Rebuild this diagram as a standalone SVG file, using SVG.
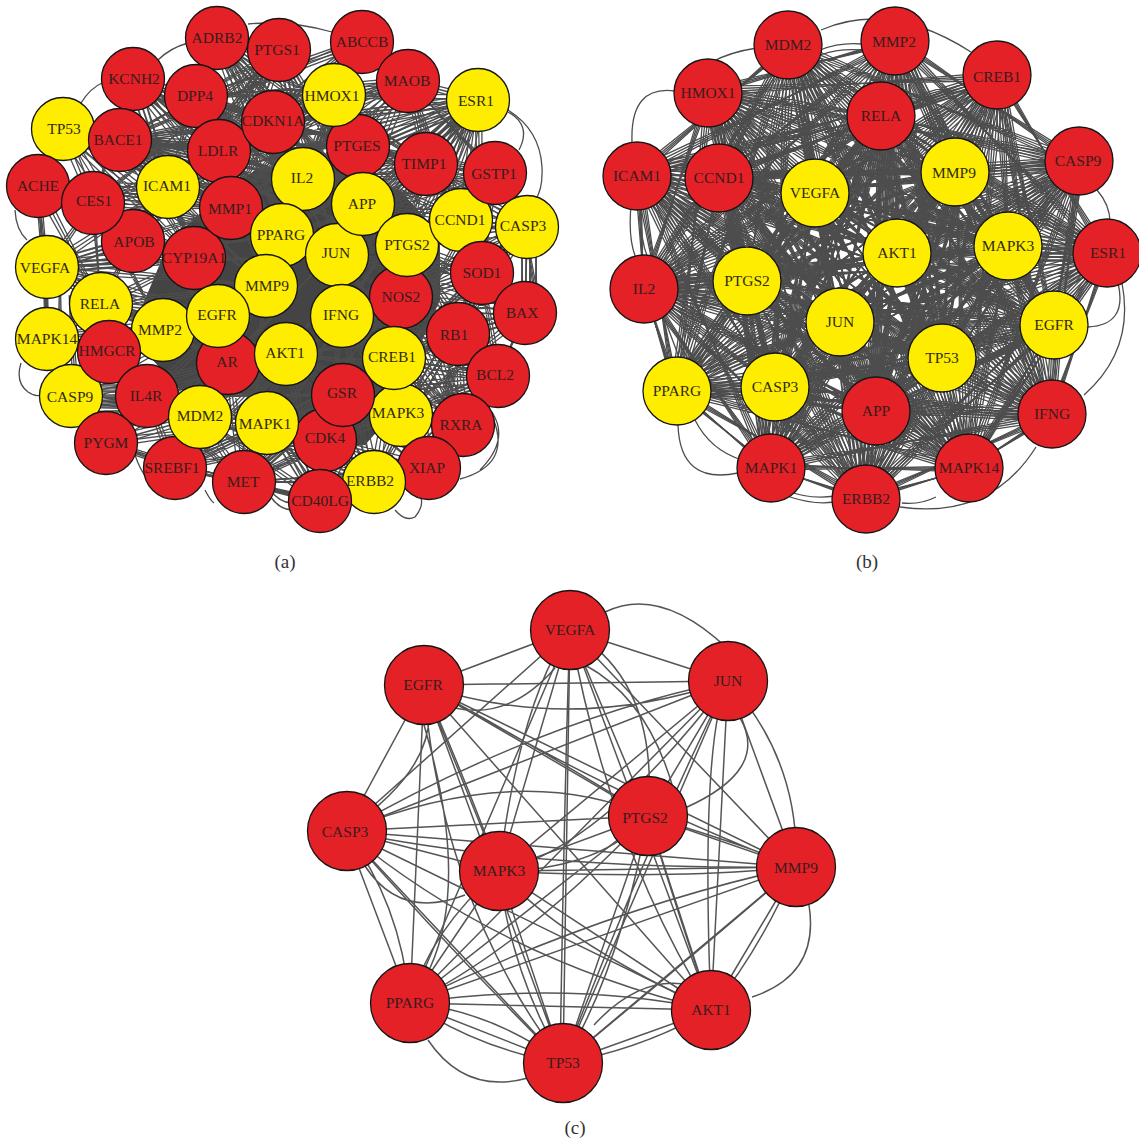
<svg xmlns="http://www.w3.org/2000/svg" width="1139" height="1143" viewBox="0 0 1139 1143">
<style>
.bg{fill:#fff}
.e{fill:none;stroke:#4d4d4d;stroke-width:1.3}
.e2{fill:none;stroke:#555;stroke-width:1.5}
.mass{fill:#444;stroke:none}
.r circle{fill:#e32126;stroke:#151515;stroke-width:1.3}
.y circle{fill:#ffed00;stroke:#151515;stroke-width:1.3}
text{font-family:"Liberation Serif","Times New Roman",serif;font-size:15.5px;text-anchor:middle}
.r text{fill:#3a1c1e}
.y text{fill:#2f2c10}
.cap{font-size:19px;fill:#333}
</style>
<rect class="bg" width="1139" height="1143"/>
<g id="connectors">
<g id="connectors-a">
<path class="mass" d="M170 240L210 205L255 170L320 160L400 190L440 235L440 300L420 345L405 400L365 445L300 450L250 395L180 390L130 335Z"/>
<path id="a-edges" class="e" d="M478 100L303 179M478 100L363 204M478 100L337 255M478 100L282 235M478 100L407 245M478 100L342 316M478 100L231 208M478 100L218 316M478 100L286 354M478 100L401 297M478 100L394 358M478 100L266 286M478 100L228 363M478 100L168 187M478 100L120 140M478 100L334 95M478 100L408 81M478 100L358 146M478 100L273 122M478 100L461 220M478 100L219 151M478 100L430 165M478 100L482 273
M217 38L303 179M217 38L363 204M217 38L337 255M217 38L407 245M217 38L358 146M217 38L282 235M217 38L426 164M217 38L342 316
M279 50L231 208M279 50L194 258M279 50L133 241M279 50L303 179M279 50L363 204M279 50L337 255M279 50L120 140M279 50L168 187M279 50L407 245M279 50L219 151M279 50L93 203
M362 42L219 151M362 42L231 208M362 42L303 179M362 42L282 235M362 42L266 286M362 42L196 96M362 42L168 187M362 42L133 241M362 42L120 140
M408 81L219 151M408 81L303 179M408 81L282 235M408 81L337 255M408 81L231 208M408 81L168 187M408 81L120 140M408 81L273 122M408 81L196 96M408 81L461 220M408 81L495 173M408 81L426 164
M133 79L303 179M133 79L231 208M133 79L282 235M133 79L337 255M133 79L363 204M133 79L168 187M133 79L358 146M133 79L219 151M133 79L273 122M133 79L93 203M133 79L194 258M133 79L407 245
M196 96L303 179M196 96L363 204M196 96L282 235M196 96L337 255M196 96L358 146M196 96L426 164M196 96L334 95M196 96L266 286M196 96L407 245M196 96L461 220M196 96L168 187
M120 140L303 179M120 140L231 208M120 140L282 235M120 140L363 204M120 140L337 255M120 140L266 286M120 140L194 258M120 140L358 146M120 140L426 164M120 140L407 245M120 140L219 151M120 140L273 122M120 140L168 187
M63 129L168 187M63 129L231 208M63 129L133 241M63 129L194 258M63 129L282 235M63 129L303 179M63 129L219 151M63 129L93 203M63 129L266 286M63 129L337 255
M38 186L168 187M38 186L133 241M38 186L194 258M38 186L231 208M38 186L47 267M38 186L101 304M38 186L47 339M38 186L282 235
M93 203L168 187M93 203L194 258M93 203L231 208M93 203L47 267M93 203L101 304M93 203L163 330M93 203L218 316
M47 267L133 241M47 267L194 258M47 267L231 208M47 267L266 286M47 267L163 330M47 267L218 316M47 267L168 187M47 267L282 235M47 267L228 363M47 267L286 354M47 267L337 255M47 267L101 304M47 267L47 339M45 280L50 360M60 290L60 350M70 300L75 380
M101 304L218 316M101 304L163 330M101 304L194 258M101 304L228 363M101 304L266 286M101 304L133 241M101 304L286 354M47 339L101 304M47 339L163 330M47 339L218 316M47 339L71 396M47 339L109 352
M71 396L147 396M71 385L147 385M71 391L147 391M71 401L147 401M71 407L147 407M71 412L147 412M71 396L200 417M71 396L228 363M71 396L267 423M71 396L163 330M71 396L218 316
M147 396L200 417M147 396L228 363M147 396L267 423M147 396L343 395M147 396L175 468M147 396L244 482M147 396L286 354M147 396L266 286
M106 443L200 417M106 443L228 363M106 443L175 468M106 443L147 396M106 443L267 423M106 443L244 482
M175 468L267 423M175 468L228 363M175 468L286 354M175 468L325 440M175 468L343 395M175 468L200 417M175 468L244 482M175 468L394 358M175 468L320 501M175 468L342 316M175 468L266 286
M200 417L228 363M200 417L244 482M200 417L320 501M200 417L325 440M200 417L374 482M200 417L286 354
M244 482L267 423M244 482L228 363M244 482L286 354M244 482L343 395M244 482L325 440M244 482L320 501M244 482L374 482M244 482L394 358M244 482L342 316M244 482L401 415M244 482L266 286M244 482L401 297M244 482L429 468M244 482L200 417
M320 501L267 423M320 501L325 440M320 501L286 354M320 501L228 363M320 501L343 395M320 501L218 316M320 501L175 468M320 501L342 316M320 501L394 358M320 501L200 417
M374 482L401 415M374 482L343 395M374 482L394 358M374 482L342 316M374 482L286 354M374 482L325 440M374 482L458 334M374 482L267 423M374 482L429 468M374 482L463 425M374 482L498 376
M429 468L401 415M429 468L394 358M429 468L343 395M429 468L342 316M429 468L401 297M429 468L458 334M429 468L463 425M429 468L325 440M429 468L286 354M429 468L482 273
M463 425L394 358M463 425L401 297M463 425L343 395M463 425L342 316M463 425L407 245M463 425L337 255M463 425L286 354M463 425L401 415M463 425L458 334M463 425L498 376
M498 376L394 358M498 376L401 415M498 376L342 316M498 376L401 297M498 376L343 395M498 376L407 245M498 376L337 255M498 376L286 354M498 376L325 440M498 376L429 468M498 376L525 313M498 376L482 273M498 376L374 482
M525 313L458 334M525 313L401 297M525 313L407 245M525 313L394 358M525 313L337 255M525 313L342 316M525 313L401 415M525 313L461 220M525 313L527 227M530 250L530 313M536 250L536 313M522 250L522 313M527 240L540 320
M527 227L461 220M527 227L407 245M527 227L401 297M527 227L342 316M527 227L337 255M527 227L363 204M527 227L495 173M527 227L482 273M527 227L458 334M527 227L394 358M527 227L426 164M527 227L358 146
M495 173L426 164M495 173L407 245M495 173L363 204M495 173L337 255M495 173L303 179M495 173L342 316M495 173L461 220M495 173L482 273M495 173L358 146M495 173L282 235M495 173L394 358
M482 273L407 245M482 273L394 358M482 273L401 297M482 273L342 316M482 273L458 334M482 273L401 415M482 273L286 354M482 273L337 255M458 334L394 358M458 334L401 297M458 334L401 415M458 334L342 316M458 334L343 395M458 334L286 354M458 334L407 245M458 334L463 425
M426 164L461 220M426 164L407 245M426 164L363 204M426 164L303 179M426 164L337 255M426 164L358 146M426 164L334 95
M334 95L273 122M334 95L303 179M334 95L363 204M334 95L219 151M334 95L282 235M334 95L231 208M334 95L358 146M334 95L337 255
M358 146L303 179M358 146L273 122M358 146L219 151M358 146L231 208M358 146L426 164M273 122L303 179M273 122L219 151M273 122L168 187M273 122L231 208M273 122L363 204M273 122L282 235M219 151L303 179M219 151L168 187M219 151L93 203M219 151L231 208M219 151L363 204M219 151L282 235M168 187L133 241M168 187L231 208M168 187L303 179M168 187L194 258M168 187L282 235"/>
<use href="#a-edges" transform="rotate(1.4 270 265)"/>
<use href="#a-edges" transform="rotate(-1.4 270 265)"/>
<path class="e" d="M81 103Q90 88 104 82M158 60Q170 48 188 43M248 24Q290 20 332 32M508 110Q540 130 542 167Q543 190 535 200M508 112Q532 125 519 150M15 210Q16 230 27 240M21 363Q15 382 28 392Q35 397 41 395M135 455Q140 470 147 478M205 490Q210 500 214 503M270 490Q280 503 292 503M270 496Q280 510 292 510M493 418Q512 465 460 479M492 412Q510 440 480 470M395 510Q405 522 415 517Q425 505 420 495"/>
</g>
<g id="connectors-b">
<path id="b-edges" class="e" d="M788 45L815 193M788 45L897 253M788 45L840 322M788 45L942 358M788 45L775 387M788 45L876 411M788 45L771 468M788 45L866 499M788 45L969 468M788 45L1052 414M788 45L1054 325M788 45L1008 246M788 45L747 281M788 45L677 391M788 45L644 289M788 45L1107 253M788 45L1079 161M788 45L955 172M788 45L719 178M788 45L637 176M788 45L881 116
M895 41L815 193M895 41L897 253M895 41L840 322M895 41L942 358M895 41L775 387M895 41L876 411M895 41L771 468M895 41L866 499M895 41L969 468M895 41L1052 414M895 41L1054 325M895 41L1008 246M895 41L747 281M895 41L677 391M895 41L644 289M895 41L719 178M895 41L637 176M895 41L955 172M895 41L708 93M895 41L1107 253M895 41L1079 161
M997 75L815 193M997 75L897 253M997 75L840 322M997 75L942 358M997 75L775 387M997 75L876 411M997 75L771 468M997 75L866 499M997 75L969 468M997 75L1052 414M997 75L1054 325M997 75L747 281M997 75L677 391M997 75L644 289M997 75L719 178M997 75L637 176M997 75L708 93M997 75L881 116M997 75L1008 246M997 75L1107 253
M708 93L815 193M708 93L897 253M708 93L840 322M708 93L942 358M708 93L775 387M708 93L876 411M708 93L771 468M708 93L866 499M708 93L969 468M708 93L1052 414M708 93L1054 325M708 93L1008 246M708 93L747 281M708 93L677 391M708 93L644 289M708 93L955 172M708 93L881 116M708 93L1079 161M708 93L1107 253
M881 116L815 193M881 116L897 253M881 116L840 322M881 116L942 358M881 116L775 387M881 116L876 411M881 116L771 468M881 116L866 499M881 116L969 468M881 116L1052 414M881 116L1054 325M881 116L1008 246M881 116L747 281M881 116L677 391M881 116L644 289M881 116L719 178M881 116L637 176M881 116L955 172M881 116L1107 253M881 116L1079 161
M1079 161L815 193M1079 161L897 253M1079 161L840 322M1079 161L942 358M1079 161L775 387M1079 161L876 411M1079 161L771 468M1079 161L866 499M1079 161L969 468M1079 161L1052 414M1079 161L1054 325M1079 161L747 281M1079 161L955 172M1079 161L719 178M1079 161L1008 246M1079 161L677 391
M637 176L815 193M637 176L897 253M637 176L840 322M637 176L942 358M637 176L775 387M637 176L876 411M637 176L771 468M637 176L866 499M637 176L969 468M637 176L1052 414M637 176L1054 325M637 176L1008 246M637 176L747 281M637 176L677 391M637 176L955 172M637 176L644 289
M719 178L815 193M719 178L897 253M719 178L840 322M719 178L942 358M719 178L775 387M719 178L876 411M719 178L771 468M719 178L866 499M719 178L969 468M719 178L1052 414M719 178L1054 325M719 178L1008 246M719 178L747 281M719 178L677 391M719 178L955 172M719 178L644 289M719 178L1107 253
M815 193L897 253M815 193L840 322M815 193L942 358M815 193L775 387M815 193L876 411M815 193L771 468M815 193L866 499M815 193L969 468M815 193L1052 414M815 193L1054 325M815 193L1008 246M815 193L747 281M815 193L677 391M815 193L644 289M815 193L955 172M815 193L1107 253
M955 172L897 253M955 172L840 322M955 172L942 358M955 172L775 387M955 172L876 411M955 172L771 468M955 172L866 499M955 172L969 468M955 172L1052 414M955 172L1054 325M955 172L1008 246M955 172L747 281M955 172L677 391M955 172L644 289M955 172L1107 253
M1107 253L897 253M1107 253L840 322M1107 253L942 358M1107 253L775 387M1107 253L876 411M1107 253L771 468M1107 253L866 499M1107 253L969 468M1107 253L1052 414M1107 253L1054 325M1107 253L1008 246M1107 253L747 281
M644 289L897 253M644 289L840 322M644 289L942 358M644 289L775 387M644 289L876 411M644 289L771 468M644 289L866 499M644 289L969 468M644 289L1052 414M644 289L1054 325M644 289L747 281M644 289L677 391M644 289L1008 246
M747 281L897 253M747 281L840 322M747 281L942 358M747 281L775 387M747 281L876 411M747 281L771 468M747 281L866 499M747 281L969 468M747 281L1052 414M747 281L1054 325M747 281L1008 246M747 281L677 391
M897 253L840 322M897 253L942 358M897 253L775 387M897 253L876 411M897 253L771 468M897 253L866 499M897 253L969 468M897 253L1052 414M897 253L1054 325M897 253L1008 246M897 253L677 391
M1008 246L840 322M1008 246L942 358M1008 246L775 387M1008 246L876 411M1008 246L771 468M1008 246L866 499M1008 246L969 468M1008 246L1052 414M1008 246L1054 325M1008 246L677 391
M1054 325L840 322M1054 325L942 358M1054 325L775 387M1054 325L876 411M1054 325L771 468M1054 325L866 499M1054 325L969 468M1054 325L1052 414M1054 325L677 391
M840 322L942 358M840 322L775 387M840 322L876 411M840 322L771 468M840 322L866 499M840 322L969 468M840 322L1052 414M840 322L677 391
M942 358L775 387M942 358L876 411M942 358L771 468M942 358L866 499M942 358L969 468M942 358L1052 414M942 358L677 391
M677 391L775 387M677 391L876 411M677 391L771 468M677 391L866 499M677 391L969 468M677 391L1052 414M775 387L876 411M775 387L771 468M775 387L866 499M775 387L969 468M775 387L1052 414M876 411L771 468M876 411L866 499M876 411L969 468M876 411L1052 414M1052 414L969 468M1052 414L866 499M1052 414L771 468M969 468L866 499M969 468L771 468M771 468L866 499"/>
<use href="#b-edges" transform="rotate(1.2 870 260)"/>
<use href="#b-edges" transform="rotate(-1.2 870 260)"/>
<use href="#b-edges" transform="rotate(2.4 870 260)"/>
<path class="e" d="M821 30Q890 0 971 52M712 62Q730 52 757 48M675 91Q630 85 632 142M631 205Q628 240 636 258M641 208Q640 240 648 258M1097 190Q1110 205 1110 222M1118 283Q1128 325 1088 327M1122 283Q1135 350 1084 395M678 425Q680 485 738 473M695 420Q710 450 742 460M790 497Q815 505 834 502M785 490Q810 500 835 496M902 503Q920 505 936 497M900 507Q990 520 1036 447M820 50Q840 42 862 44M820 55Q840 48 862 50M655 320L669 360M665 320L680 360M660 170L700 170M660 175L700 175M660 180L700 180M660 185L700 185M670 280L720 280M670 286L720 286M670 292L720 292M700 385L745 385M700 391L745 391M1035 248L1080 248M1035 254L1080 254M1035 260L1080 260"/>
</g>
<g id="connectors-c">
<path class="e2" d="M605 612Q660 585 727 648M570 630L424 685M570 630L728 681M570 630L345 831M570 630L648 816M570 630L499 871M570 630L796 867M570 630L410 1003M570 630L711 1010M570 630L563 1063
M424 685L728 681M424 685L345 831M424 685L648 816M424 685L499 871M424 685L796 867M424 685L410 1003M424 685L711 1010M424 685L563 1063
M728 681L345 831M728 681L648 816M728 681L499 871M728 681L796 867M728 681L410 1003M728 681L711 1010M728 681L563 1063
M345 831L648 816M345 831L499 871M345 831L796 867M345 831L410 1003M345 831L711 1010M345 831L563 1063
M648 816L499 871M648 816L796 867M648 816L410 1003M648 816L711 1010M648 816L563 1063
M499 871L796 867M499 871L410 1003M499 871L711 1010M499 871L563 1063
M796 867L410 1003M796 867L711 1010M796 867L563 1063
M410 1003L711 1010M410 1003L563 1063M711 1010L563 1063"/>
<path class="e2" d="M455 708Q510 720 555 668M570 630Q520 700 499 871M570 630Q565 760 560 1063M570 630Q610 850 711 1010M570 630Q660 680 648 816M585 665Q650 700 675 795M424 685Q450 760 345 831M424 725Q470 880 430 968M424 685Q440 900 563 1063M424 685Q560 760 648 816M424 685Q570 735 728 681M424 685Q470 790 499 871M424 685Q620 800 796 867M740 718Q770 770 685 808M728 681Q700 740 711 1010M728 681Q640 860 563 1063M728 681Q600 850 499 871M728 681Q540 720 345 831M728 681Q800 760 796 867M345 831Q520 760 648 816M345 831Q530 870 796 867M345 831Q500 960 711 1010M345 831Q400 900 410 1003M345 831Q450 950 563 1063M365 866Q400 920 465 895M648 816Q600 870 499 871M648 816Q760 850 796 867M648 816Q680 920 711 1010M648 816Q520 950 410 1003M648 816Q620 970 563 1063M499 871Q680 880 796 867M499 871Q560 940 711 1010M499 871Q430 930 410 1003M499 871Q510 970 563 1063M796 867Q700 950 563 1063M796 867Q600 910 410 1003M809 905Q820 975 752 997M796 867Q760 950 711 1010M410 1003Q570 980 711 1010M428 1040Q465 1095 528 1078M410 1003Q490 1010 563 1063M689 985Q640 975 594 1025M711 1010Q640 1050 563 1063M410 1003Q480 1050 563 1063"/>
</g>
</g>
<g id="nodes-a">
<g id="a-ADRB2" class="r"><circle cx="217" cy="38" r="31.5"/><text x="217" y="43">ADRB2</text></g>
<g id="a-PTGS1" class="r"><circle cx="279" cy="50" r="31.5"/><text x="277" y="55">PTGS1</text></g>
<g id="a-ABCCB" class="r"><circle cx="362" cy="42" r="31.5"/><text x="362" y="47">ABCCB</text></g>
<g id="a-MAOB" class="r"><circle cx="408" cy="81" r="31.5"/><text x="407" y="86">MAOB</text></g>
<g id="a-KCNH2" class="r"><circle cx="133" cy="79" r="31.5"/><text x="134" y="84">KCNH2</text></g>
<g id="a-DPP4" class="r"><circle cx="196" cy="96" r="31.5"/><text x="195" y="101">DPP4</text></g>
<g id="a-PTGES" class="r"><circle cx="358" cy="146" r="31.5"/><text x="357" y="151">PTGES</text></g>
<g id="a-HMOX1" class="y"><circle cx="334" cy="95" r="31.5"/><text x="332" y="101">HMOX1</text></g>
<g id="a-ESR1" class="y"><circle cx="478" cy="100" r="31.5"/><text x="476" y="106">ESR1</text></g>
<g id="a-TP53" class="y"><circle cx="63" cy="129" r="31.5"/><text x="64" y="134">TP53</text></g>
<g id="a-BACE1" class="r"><circle cx="120" cy="140" r="31.5"/><text x="118" y="145">BACE1</text></g>
<g id="a-APOB" class="r"><circle cx="133" cy="241" r="31.5"/><text x="134" y="247">APOB</text></g>
<g id="a-ACHE" class="r"><circle cx="38" cy="186" r="31.5"/><text x="38" y="191">ACHE</text></g>
<g id="a-CES1" class="r"><circle cx="93" cy="203" r="31.5"/><text x="94" y="206">CES1</text></g>
<g id="a-ICAM1" class="y"><circle cx="168" cy="187" r="31.5"/><text x="167" y="191">ICAM1</text></g>
<g id="a-CYP19A1" class="r"><circle cx="194" cy="258" r="31.5"/><text x="194" y="263">CYP19A1</text></g>
<g id="a-LDLR" class="r"><circle cx="219" cy="151" r="31.5"/><text x="218" y="156">LDLR</text></g>
<g id="a-CDKN1A" class="r"><circle cx="273" cy="122" r="31.5"/><text x="273" y="126">CDKN1A</text></g>
<g id="a-MMP1" class="r"><circle cx="231" cy="208" r="31.5"/><text x="230" y="214">MMP1</text></g>
<g id="a-IL2" class="y"><circle cx="303" cy="179" r="31.5"/><text x="302" y="183">IL2</text></g>
<g id="a-PPARG" class="y"><circle cx="282" cy="235" r="31.5"/><text x="281" y="240">PPARG</text></g>
<g id="a-MMP9" class="y"><circle cx="266" cy="286" r="31.5"/><text x="267" y="291">MMP9</text></g>
<g id="a-JUN" class="y"><circle cx="337" cy="255" r="31.5"/><text x="336" y="258">JUN</text></g>
<g id="a-APP" class="y"><circle cx="363" cy="204" r="31.5"/><text x="362" y="209">APP</text></g>
<g id="a-NOS2" class="r"><circle cx="401" cy="297" r="31.5"/><text x="401" y="302">NOS2</text></g>
<g id="a-PTGS2" class="y"><circle cx="407" cy="245" r="31.5"/><text x="407" y="250">PTGS2</text></g>
<g id="a-TIMP1" class="r"><circle cx="426" cy="164" r="31.5"/><text x="424" y="169">TIMP1</text></g>
<g id="a-CCND1" class="y"><circle cx="461" cy="220" r="31.5"/><text x="460" y="225">CCND1</text></g>
<g id="a-GSTP1" class="r"><circle cx="495" cy="173" r="31.5"/><text x="494" y="179">GSTP1</text></g>
<g id="a-SOD1" class="r"><circle cx="482" cy="273" r="31.5"/><text x="482" y="278">SOD1</text></g>
<g id="a-CASP3" class="y"><circle cx="527" cy="227" r="31.5"/><text x="523" y="231">CASP3</text></g>
<g id="a-VEGFA" class="y"><circle cx="47" cy="267" r="31.5"/><text x="45" y="273">VEGFA</text></g>
<g id="a-RELA" class="y"><circle cx="101" cy="304" r="31.5"/><text x="100" y="309">RELA</text></g>
<g id="a-MMP2" class="y"><circle cx="163" cy="330" r="31.5"/><text x="160" y="335">MMP2</text></g>
<g id="a-AR" class="r"><circle cx="228" cy="363" r="31.5"/><text x="227" y="367">AR</text></g>
<g id="a-EGFR" class="y"><circle cx="218" cy="316" r="31.5"/><text x="217" y="320">EGFR</text></g>
<g id="a-IFNG" class="y"><circle cx="342" cy="316" r="31.5"/><text x="341" y="320">IFNG</text></g>
<g id="a-BAX" class="r"><circle cx="525" cy="313" r="31.5"/><text x="522" y="318">BAX</text></g>
<g id="a-RB1" class="r"><circle cx="458" cy="334" r="31.5"/><text x="454" y="340">RB1</text></g>
<g id="a-BCL2" class="r"><circle cx="498" cy="376" r="31.5"/><text x="495" y="380">BCL2</text></g>
<g id="a-MAPK14" class="y"><circle cx="47" cy="339" r="31.5"/><text x="47" y="344">MAPK14</text></g>
<g id="a-CASP9" class="y"><circle cx="71" cy="396" r="31.5"/><text x="70" y="402">CASP9</text></g>
<g id="a-HMGCR" class="r"><circle cx="109" cy="352" r="31.5"/><text x="107" y="356">HMGCR</text></g>
<g id="a-AKT1" class="y"><circle cx="286" cy="354" r="31.5"/><text x="285" y="358">AKT1</text></g>
<g id="a-MAPK3" class="y"><circle cx="401" cy="415" r="31.5"/><text x="398" y="418">MAPK3</text></g>
<g id="a-CREB1" class="y"><circle cx="394" cy="358" r="31.5"/><text x="392" y="362">CREB1</text></g>
<g id="a-CDK4" class="r"><circle cx="325" cy="440" r="31.5"/><text x="325" y="443">CDK4</text></g>
<g id="a-GSR" class="r"><circle cx="343" cy="395" r="31.5"/><text x="342" y="398">GSR</text></g>
<g id="a-IL4R" class="r"><circle cx="147" cy="396" r="31.5"/><text x="146" y="401">IL4R</text></g>
<g id="a-SREBF1" class="r"><circle cx="175" cy="468" r="31.5"/><text x="172" y="473">SREBF1</text></g>
<g id="a-MDM2" class="y"><circle cx="200" cy="417" r="31.5"/><text x="200" y="421">MDM2</text></g>
<g id="a-MAPK1" class="y"><circle cx="267" cy="423" r="31.5"/><text x="265" y="429">MAPK1</text></g>
<g id="a-PYGM" class="r"><circle cx="106" cy="443" r="31.5"/><text x="106" y="448">PYGM</text></g>
<g id="a-RXRA" class="r"><circle cx="463" cy="425" r="31.5"/><text x="461" y="430">RXRA</text></g>
<g id="a-XIAP" class="r"><circle cx="429" cy="468" r="31.5"/><text x="427" y="473">XIAP</text></g>
<g id="a-MET" class="r"><circle cx="244" cy="482" r="31.5"/><text x="243" y="487">MET</text></g>
<g id="a-ERBB2" class="y"><circle cx="374" cy="482" r="31.5"/><text x="370" y="486">ERBB2</text></g>
<g id="a-CD40LG" class="r"><circle cx="320" cy="501" r="31.5"/><text x="320" y="506">CD40LG</text></g>
</g>
<g id="nodes-b">
<g id="b-MDM2" class="r"><circle cx="788" cy="45" r="34"/><text x="788" y="50">MDM2</text></g>
<g id="b-MMP2" class="r"><circle cx="895" cy="41" r="34"/><text x="894" y="47">MMP2</text></g>
<g id="b-CREB1" class="r"><circle cx="997" cy="75" r="34"/><text x="997" y="82">CREB1</text></g>
<g id="b-HMOX1" class="r"><circle cx="708" cy="93" r="34"/><text x="708" y="98">HMOX1</text></g>
<g id="b-RELA" class="r"><circle cx="881" cy="116" r="34"/><text x="881" y="121">RELA</text></g>
<g id="b-CASP9" class="r"><circle cx="1079" cy="161" r="34"/><text x="1078" y="166">CASP9</text></g>
<g id="b-ICAM1" class="r"><circle cx="637" cy="176" r="34"/><text x="637" y="181">ICAM1</text></g>
<g id="b-CCND1" class="r"><circle cx="719" cy="178" r="34"/><text x="719" y="183">CCND1</text></g>
<g id="b-VEGFA" class="y"><circle cx="815" cy="193" r="34"/><text x="815" y="198">VEGFA</text></g>
<g id="b-MMP9" class="y"><circle cx="955" cy="172" r="34"/><text x="954" y="178">MMP9</text></g>
<g id="b-ESR1" class="r"><circle cx="1107" cy="253" r="34"/><text x="1108" y="258">ESR1</text></g>
<g id="b-IL2" class="r"><circle cx="644" cy="289" r="34"/><text x="644" y="294">IL2</text></g>
<g id="b-PTGS2" class="y"><circle cx="747" cy="281" r="34"/><text x="747" y="286">PTGS2</text></g>
<g id="b-AKT1" class="y"><circle cx="897" cy="253" r="34"/><text x="897" y="258">AKT1</text></g>
<g id="b-MAPK3" class="y"><circle cx="1008" cy="246" r="34"/><text x="1008" y="251">MAPK3</text></g>
<g id="b-EGFR" class="y"><circle cx="1054" cy="325" r="34"/><text x="1054" y="330">EGFR</text></g>
<g id="b-JUN" class="y"><circle cx="840" cy="322" r="34"/><text x="840" y="327">JUN</text></g>
<g id="b-TP53" class="y"><circle cx="942" cy="358" r="34"/><text x="942" y="363">TP53</text></g>
<g id="b-PPARG" class="y"><circle cx="677" cy="391" r="34"/><text x="677" y="396">PPARG</text></g>
<g id="b-CASP3" class="y"><circle cx="775" cy="387" r="34"/><text x="775" y="392">CASP3</text></g>
<g id="b-APP" class="r"><circle cx="876" cy="411" r="34"/><text x="876" y="416">APP</text></g>
<g id="b-IFNG" class="r"><circle cx="1052" cy="414" r="34"/><text x="1052" y="419">IFNG</text></g>
<g id="b-MAPK1" class="r"><circle cx="771" cy="468" r="34"/><text x="771" y="473">MAPK1</text></g>
<g id="b-MAPK14" class="r"><circle cx="969" cy="468" r="34"/><text x="969" y="473">MAPK14</text></g>
<g id="b-ERBB2" class="r"><circle cx="866" cy="499" r="34"/><text x="866" y="504">ERBB2</text></g>
</g>
<g id="nodes-c">
<g id="c-VEGFA" class="r"><circle cx="570" cy="630" r="39.5"/><text x="570" y="635">VEGFA</text></g>
<g id="c-EGFR" class="r"><circle cx="424" cy="685" r="39.5"/><text x="423" y="690">EGFR</text></g>
<g id="c-JUN" class="r"><circle cx="728" cy="681" r="39.5"/><text x="728" y="686">JUN</text></g>
<g id="c-CASP3" class="r"><circle cx="347" cy="831" r="39.5"/><text x="345" y="837">CASP3</text></g>
<g id="c-PTGS2" class="r"><circle cx="648" cy="816" r="39.5"/><text x="645" y="823">PTGS2</text></g>
<g id="c-MAPK3" class="r"><circle cx="499" cy="871" r="39.5"/><text x="499" y="876">MAPK3</text></g>
<g id="c-MMP9" class="r"><circle cx="796" cy="867" r="39.5"/><text x="796" y="873">MMP9</text></g>
<g id="c-PPARG" class="r"><circle cx="410" cy="1003" r="39.5"/><text x="410" y="1008">PPARG</text></g>
<g id="c-AKT1" class="r"><circle cx="711" cy="1010" r="39.5"/><text x="711" y="1015">AKT1</text></g>
<g id="c-TP53" class="r"><circle cx="563" cy="1063" r="39.5"/><text x="563" y="1068">TP53</text></g>
</g>
<g id="captions">
<text class="cap" x="285" y="568">(a)</text>
<text class="cap" x="867" y="568">(b)</text>
<text class="cap" x="575" y="1134">(c)</text>
</g>
</svg>
